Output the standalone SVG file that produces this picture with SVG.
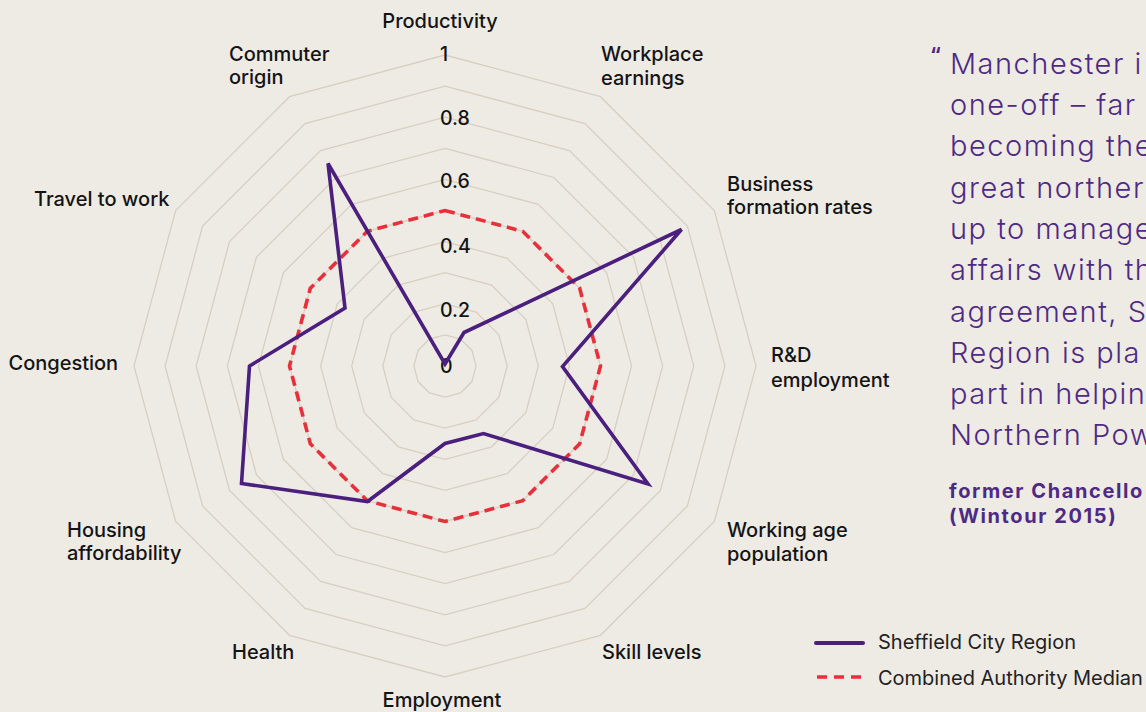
<svg xmlns="http://www.w3.org/2000/svg" width="1146" height="712" viewBox="0 0 1146 712">
<style>
.lbl{font-family:Inter,"Liberation Sans",sans-serif;font-size:20px;font-weight:500;fill:#141414}
.num{font-family:Inter,"Liberation Sans",sans-serif;font-size:19.5px;font-weight:500;fill:#141414}
.ring{fill:none;stroke:#D8CEC2;stroke-width:1.3}
.quote{font-family:Inter,"Liberation Sans",sans-serif;font-size:29px;font-weight:300;fill:#4E2A84;letter-spacing:1.5px}
.attr{font-family:Inter,"Liberation Sans",sans-serif;font-size:20px;font-weight:700;fill:#4E2A84;letter-spacing:1.6px}
.leg{font-family:Inter,"Liberation Sans",sans-serif;font-size:20px;font-weight:400;fill:#222}
.scr{fill:none;stroke:#4B1F7D;stroke-width:3.6;stroke-linejoin:miter}
.med{fill:none;stroke:#E8303A;stroke-width:3.6;stroke-dasharray:10 6}
</style>
<rect width="1146" height="712" fill="#EEEBE5"/>
<g id="grid">
<polygon class="ring" points="445,334.9 460.55,339.07 471.93,350.45 476.1,366 471.93,381.55 460.55,392.93 445,397.1 429.45,392.93 418.07,381.55 413.9,366 418.07,350.45 429.45,339.07"/>
<polygon class="ring" points="445,303.8 476.1,312.13 498.87,334.9 507.2,366 498.87,397.1 476.1,419.87 445,428.2 413.9,419.87 391.13,397.1 382.8,366 391.13,334.9 413.9,312.13"/>
<polygon class="ring" points="445,272.7 491.65,285.2 525.8,319.35 538.3,366 525.8,412.65 491.65,446.8 445,459.3 398.35,446.8 364.2,412.65 351.7,366 364.2,319.35 398.35,285.2"/>
<polygon class="ring" points="445,241.6 507.2,258.27 552.73,303.8 569.4,366 552.73,428.2 507.2,473.73 445,490.4 382.8,473.73 337.27,428.2 320.6,366 337.27,303.8 382.8,258.27"/>
<polygon class="ring" points="445,210.5 522.75,231.34 579.66,288.25 600.5,366 579.66,443.75 522.75,500.66 445,521.5 367.25,500.66 310.34,443.75 289.5,366 310.34,288.25 367.25,231.34"/>
<polygon class="ring" points="445,179.4 538.3,204.4 606.6,272.7 631.6,366 606.6,459.3 538.3,527.6 445,552.6 351.7,527.6 283.4,459.3 258.4,366 283.4,272.7 351.7,204.4"/>
<polygon class="ring" points="445,148.3 553.85,177.47 633.53,257.15 662.7,366 633.53,474.85 553.85,554.53 445,583.7 336.15,554.53 256.47,474.85 227.3,366 256.47,257.15 336.15,177.47"/>
<polygon class="ring" points="445,117.2 569.4,150.54 660.46,241.6 693.8,366 660.46,490.4 569.4,581.46 445,614.8 320.6,581.46 229.54,490.4 196.2,366 229.54,241.6 320.6,150.54"/>
<polygon class="ring" points="445,86.1 584.95,123.61 687.39,226.05 724.9,366 687.39,505.95 584.95,608.39 445,645.9 305.05,608.39 202.61,505.95 165.1,366 202.61,226.05 305.05,123.61"/>
<polygon class="ring" points="445,55 600.5,96.67 714.33,210.5 756,366 714.33,521.5 600.5,635.33 445,677 289.5,635.33 175.67,521.5 134,366 175.67,210.5 289.5,96.67"/>
</g>
<g id="scale-labels">
<text class="num" x="440" y="61">1</text>
<text class="num" x="440" y="125">0.8</text>
<text class="num" x="440" y="188">0.6</text>
<text class="num" x="440" y="253">0.4</text>
<text class="num" x="440" y="317">0.2</text>
<text class="num" x="440" y="373">0</text>
</g>
<g id="series">
<polygon id="median" class="med" points="445,210.5 522.75,231.33 579.67,288.25 600.5,366 579.67,443.75 522.75,500.67 445,521.5 367.25,500.67 310.33,443.75 289.5,366 310.33,288.25 367.25,231.33"/>
<polygon id="sheffield" class="scr" points="445,364 464,332.5 681.5,229.5 562.5,366.5 648,484 483.5,433.5 445,443.5 367.5,501.5 241.5,483.5 249.5,366 345,308 328,163.5"/>
</g>
<g id="axis-labels">
<text id="lbl-productivity" class="lbl" x="440" y="28" text-anchor="middle">Productivity</text>
<text id="lbl-workplace" class="lbl" x="601" y="61"><tspan x="601">Workplace</tspan><tspan x="601" y="85">earnings</tspan></text>
<text id="lbl-business" class="lbl" x="727" y="191"><tspan x="727">Business</tspan><tspan x="727" y="214">formation rates</tspan></text>
<text id="lbl-rd" class="lbl" x="771" y="362"><tspan x="771">R&amp;D</tspan><tspan x="771" y="387">employment</tspan></text>
<text id="lbl-working" class="lbl" x="727" y="537"><tspan x="727">Working age</tspan><tspan x="727" y="561">population</tspan></text>
<text id="lbl-skill" class="lbl" x="602" y="659">Skill levels</text>
<text id="lbl-employment" class="lbl" x="442" y="707" text-anchor="middle">Employment</text>
<text id="lbl-health" class="lbl" x="232" y="659">Health</text>
<text id="lbl-housing" class="lbl" x="67" y="537"><tspan x="67">Housing</tspan><tspan x="67" y="560">affordability</tspan></text>
<text id="lbl-congestion" class="lbl" x="8.5" y="370">Congestion</text>
<text id="lbl-travel" class="lbl" x="34" y="206">Travel to work</text>
<text id="lbl-commuter" class="lbl" x="229" y="61"><tspan x="229">Commuter</tspan><tspan x="229" y="84">origin</tspan></text>
</g>
<g id="quote">
<text x="930" y="62" style="font-family:Inter,'Liberation Sans',sans-serif;font-size:20px;font-weight:700;fill:#4E2A84">“</text>
<text class="quote" x="950" y="74">Manchester i</text>
<text class="quote" x="950" y="115">one-off – far</text>
<text class="quote" x="950" y="156">becoming the</text>
<text class="quote" x="950" y="198">great northern</text>
<text class="quote" x="950" y="239">up to manage</text>
<text class="quote" x="950" y="280">affairs with th</text>
<text class="quote" x="950" y="322">agreement, S</text>
<text class="quote" x="950" y="363">Region is pla</text>
<text class="quote" x="950" y="404">part in helpin</text>
<text class="quote" x="950" y="445">Northern Pow</text>
<text class="attr" x="949" y="498">former Chancello</text>
<text class="attr" x="949" y="523">(Wintour 2015)</text>
</g>
<g id="legend">
<line x1="816" y1="643" x2="863" y2="643" stroke="#4B1F7D" stroke-width="4" stroke-linecap="round"/>
<text class="leg" x="878" y="649">Sheffield City Region</text>
<line x1="817" y1="677" x2="862" y2="677" stroke="#E8303A" stroke-width="3.6" stroke-dasharray="10 7"/>
<text class="leg" x="878" y="685">Combined Authority Median</text>
</g>
</svg>
